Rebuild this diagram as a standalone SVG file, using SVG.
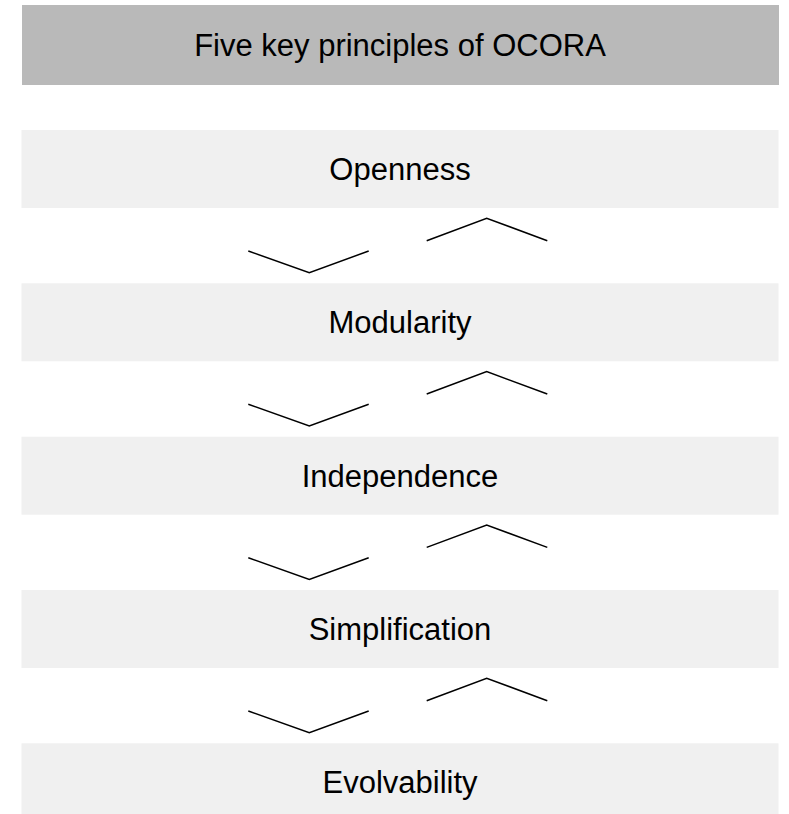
<svg xmlns="http://www.w3.org/2000/svg" width="789" height="814" viewBox="0 0 789 814">
<style>
.hdr{fill:#b9b9b9}
.box{fill:#f0f0f0}
.t{font-family:"Liberation Sans",Arial,Helvetica,sans-serif;font-size:31px;fill:#000;text-anchor:middle}
.c{fill:none;stroke:#000;stroke-width:1.5}
</style>
<rect width="789" height="814" fill="#fff"/>
<g id="header"><rect class="hdr" x="22" y="5" width="757" height="80"/><text class="t" x="400" y="56">Five key principles of OCORA</text></g>
<g id="openness"><rect class="box" x="21.5" y="130" width="757" height="78"/><text class="t" x="400" y="180">Openness</text></g>
<g id="modularity"><rect class="box" x="21.5" y="283.3" width="757" height="78"/><text class="t" x="400" y="333.3">Modularity</text></g>
<g id="independence"><rect class="box" x="21.5" y="436.7" width="757" height="78"/><text class="t" x="400" y="486.7">Independence</text></g>
<g id="simplification"><rect class="box" x="21.5" y="590" width="757" height="78"/><text class="t" x="400" y="640">Simplification</text></g>
<g id="evolvability"><rect class="box" x="21.5" y="743.3" width="757" height="78"/><text class="t" x="400" y="793.3">Evolvability</text></g>
<g id="connectors">
<g transform="translate(0,0)"><polyline class="c" points="248.3,251 309.3,272.7 368.7,251"/><polyline class="c" points="426.7,240.7 486.7,218.3 547.3,240.7"/></g>
<g transform="translate(0,153.3)"><polyline class="c" points="248.3,251 309.3,272.7 368.7,251"/><polyline class="c" points="426.7,240.7 486.7,218.3 547.3,240.7"/></g>
<g transform="translate(0,306.7)"><polyline class="c" points="248.3,251 309.3,272.7 368.7,251"/><polyline class="c" points="426.7,240.7 486.7,218.3 547.3,240.7"/></g>
<g transform="translate(0,460)"><polyline class="c" points="248.3,251 309.3,272.7 368.7,251"/><polyline class="c" points="426.7,240.7 486.7,218.3 547.3,240.7"/></g>
</g>
</svg>
